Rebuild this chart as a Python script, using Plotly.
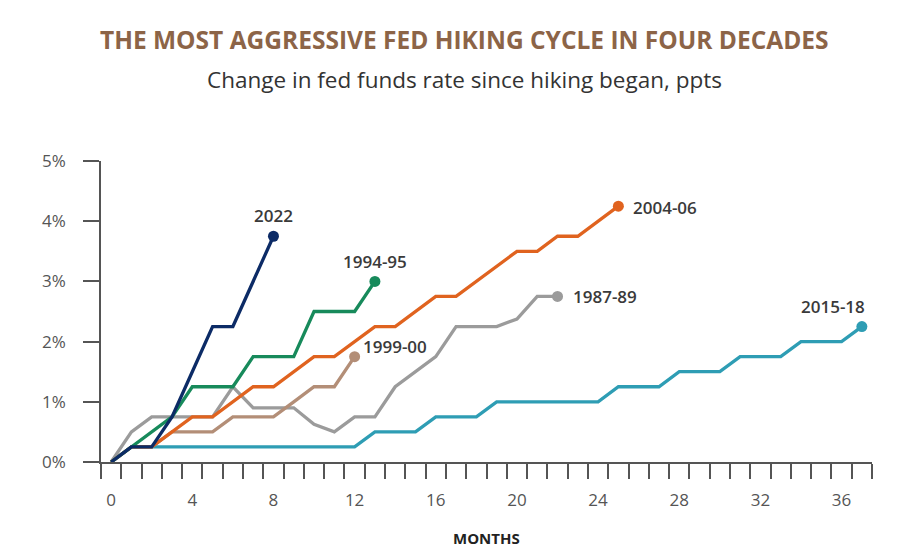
import plotly.graph_objects as go

# ---- data (change in fed funds rate since hiking began, ppts) ----
title_text = "THE MOST AGGRESSIVE FED HIKING CYCLE IN FOUR DECADES"
subtitle_text = "Change in fed funds rate since hiking began, ppts"
months_label = "MONTHS"
x_tick_vals = [0, 4, 8, 12, 16, 20, 24, 28, 32, 36]
y_tick_vals = [0, 1, 2, 3, 4, 5]
y_tick_text = ["0%", "1%", "2%", "3%", "4%", "5%"]

cycle_2015_18 = [0, 0.25, 0.25, 0.25, 0.25, 0.25, 0.25, 0.25, 0.25, 0.25, 0.25, 0.25, 0.25,
                 0.5, 0.5, 0.5, 0.75, 0.75, 0.75, 1.0, 1.0, 1.0, 1.0, 1.0, 1.0,
                 1.25, 1.25, 1.25, 1.5, 1.5, 1.5, 1.75, 1.75, 1.75, 2.0, 2.0, 2.0, 2.25]
cycle_1987_89 = [0, 0.5, 0.75, 0.75, 0.75, 0.75, 1.25, 0.9, 0.9, 0.9, 0.625, 0.5, 0.75, 0.75,
                 1.25, 1.5, 1.75, 2.25, 2.25, 2.25, 2.375, 2.75, 2.75]
cycle_1999_00 = [0, 0.25, 0.25, 0.5, 0.5, 0.5, 0.75, 0.75, 0.75, 1.0, 1.25, 1.25, 1.75]
cycle_2004_06 = [0, 0.25, 0.25, 0.5, 0.75, 0.75, 1.0, 1.25, 1.25, 1.5, 1.75, 1.75, 2.0,
                 2.25, 2.25, 2.5, 2.75, 2.75, 3.0, 3.25, 3.5, 3.5, 3.75, 3.75, 4.0, 4.25]
cycle_1994_95 = [0, 0.25, 0.5, 0.75, 1.25, 1.25, 1.25, 1.75, 1.75, 1.75, 2.5, 2.5, 2.5, 3.0]
cycle_2022 = [0, 0.25, 0.25, 0.75, 1.5, 2.25, 2.25, 3.0, 3.75]

series = [
    # name, values, color, label placement (px): xanchor, xshift, yshift
    ("2015-18", cycle_2015_18, "#2E9DB4", "center", -29, 20),
    ("1987-89", cycle_1987_89, "#9B9B9B", "left", 13, 0),
    ("1999-00", cycle_1999_00, "#B38E77", "left", 6, 10),
    ("2004-06", cycle_2004_06, "#E0631F", "left", 13, -1),
    ("1994-95", cycle_1994_95, "#178A5B", "center", 0, 20),
    ("2022", cycle_2022, "#0C2B66", "center", 0, 21),
]

fig = go.Figure()
annotations = []
for name, vals, color, xa, xs, ys in series:
    x_months = list(range(len(vals)))
    fig.add_trace(go.Scatter(
        x=x_months, y=vals, mode="lines", name=name,
        line=dict(color=color, width=3.3),
        hoverinfo="skip", showlegend=False,
    ))
    fig.add_trace(go.Scatter(
        x=x_months[-1:], y=vals[-1:], mode="markers", name=name,
        marker=dict(size=11, color=color, opacity=1, line=dict(width=0)),
        hoverinfo="skip", showlegend=False,
    ))
    annotations.append(dict(
        x=x_months[-1], y=vals[-1], xref="x", yref="y", text=name,
        showarrow=False, xanchor=xa, yanchor="middle", xshift=xs, yshift=ys,
        font=dict(family="Open Sans", size=17, color="#3A3A3A", weight=600),
    ))

# page has an 8px body margin; plot area on screen: x 101..872, y 161..462
annotations.append(dict(
    x=0.5, y=(462 - 538) / 301, xref="paper", yref="paper", text="<b>" + months_label + "</b>",
    showarrow=False, xanchor="center", yanchor="middle",
    font=dict(family="Open Sans", size=15, color="#222222"),
))
annotations.append(dict(
    x=(464 - 101) / 771, y=(462 - 40) / 301, xref="paper", yref="paper",
    text="<b>" + title_text + "</b>", showarrow=False, xanchor="center", yanchor="middle",
    font=dict(family="Open Sans", size=24.5, color="#8C6447"),
))
annotations.append(dict(
    x=(464 - 101) / 771, y=(462 - 80) / 301, xref="paper", yref="paper",
    text=subtitle_text, showarrow=False, xanchor="center", yanchor="middle",
    font=dict(family="Open Sans", size=22.5, color="#333333"),
))

fig.update_layout(
    width=912, height=546,
    margin=dict(l=93, r=48, t=153, b=92),
    paper_bgcolor="white", plot_bgcolor="white",
    annotations=annotations,
    xaxis=dict(
        range=[-0.5, 37.5], tickvals=x_tick_vals, ticktext=[str(v) for v in x_tick_vals],
        ticks="outside", ticklen=0, showgrid=False, zeroline=False,
        showline=True, linecolor="#555555", linewidth=1.5,
        tickfont=dict(family="Open Sans", size=17, color="#555555"),
        ticklabelstandoff=22, automargin=False,
        minor=dict(tick0=-0.5, dtick=1, ticks="outside", ticklen=15,
                   tickwidth=1.5, tickcolor="#555555", showgrid=False),
        fixedrange=True,
    ),
    yaxis=dict(
        range=[0, 5], tickvals=y_tick_vals, ticktext=y_tick_text,
        ticks="outside", ticklen=16, tickwidth=1.5, tickcolor="#555555",
        showgrid=False, zeroline=False, showline=True, linecolor="#555555", linewidth=1.5,
        tickfont=dict(family="Open Sans", size=17, color="#555555"),
        ticklabelstandoff=14, automargin=False,
        fixedrange=True,
    ),
)

fig.write_html("out.html")
